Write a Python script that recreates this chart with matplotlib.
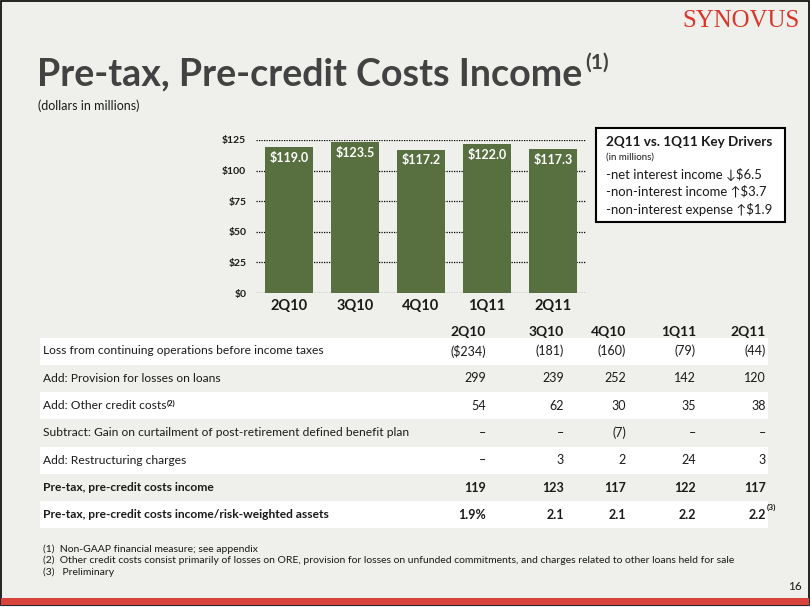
import matplotlib
matplotlib.use("Agg")
import matplotlib.pyplot as plt
from matplotlib.patches import Rectangle
from matplotlib.text import Annotation

# ---- data ----
quarters = ["2Q10", "3Q10", "4Q10", "1Q11", "2Q11"]
income = [119.0, 123.5, 117.2, 122.0, 117.3]
y_ticks = [0, 25, 50, 75, 100, 125]

row_labels = [
    "Loss from continuing operations before income taxes",
    "Add: Provision for losses on loans",
    "Add: Other credit costs",
    "Subtract: Gain on curtailment of post-retirement defined benefit plan",
    "Add: Restructuring charges",
    "Pre-tax, pre-credit costs income",
    "Pre-tax, pre-credit costs income/risk-weighted assets",
]
row_loss = ["($234)", "(181)", "(160)", "(79)", "(44)"]
row_provision = ["299", "239", "252", "142", "120"]
row_other = ["54", "62", "30", "35", "38"]
row_gain = ["\u2013", "\u2013", "(7)", "\u2013", "\u2013"]
row_restruct = ["\u2013", "3", "2", "24", "3"]
row_ppi = ["119", "123", "117", "122", "117"]
row_rwa = ["1.9%", "2.1", "2.1", "2.2", "2.2"]
table_rows = [row_loss, row_provision, row_other, row_gain, row_restruct, row_ppi, row_rwa]
bold_rows = [5, 6]

drivers = [
    "-net interest income \u2193$6.5",
    "-non-interest income \u2191$3.7",
    "-non-interest expense \u2191$1.9",
]
footnotes = [
    "(1)  Non-GAAP financial measure; see appendix",
    "(2)  Other credit costs consist primarily of losses on ORE, provision for losses on unfunded commitments, and charges related to other loans held for sale",
    "(3)   Preliminary",
]

# ---- style ----
W, H = 810, 607
BG = "#efefeb"
GREEN = "#586f40"
TXT = "#1a1a1a"
TITLE = "#424242"
RED = "#d8433c"
plt.rcParams["font.family"] = ["Lato", "DejaVu Sans"]


def fx(x):
    return x / W


def fy(y):
    return 1 - y / H


fig = plt.figure(figsize=(W / 100, H / 100), dpi=100, facecolor=BG)
renderer = fig.canvas.get_renderer()


def fit(t, width):
    # shrink/grow a text so that it spans the given pixel width
    w = t.get_window_extent(renderer).width
    t.set_fontsize(t.get_fontsize() * width / w)
    return t.get_fontsize()


def sup(t, s, size, dx=0.5, dy=0, weight="bold", color=TXT):
    # small superscript glued to the top-right corner of another text
    a = Annotation(s, xy=(1, 1), xycoords=t, xytext=(dx, dy), textcoords="offset points",
                   fontsize=size, fontweight=weight, color=color, ha="left", va="top",
                   annotation_clip=False, zorder=5)
    fig.add_artist(a)
    return a


# frame and bottom bar
fig.patches.append(Rectangle((fx(1), fy(605)), fx(808), 604 / H, transform=fig.transFigure,
                             fill=False, edgecolor="black", linewidth=1.2))
fig.patches.append(Rectangle((fx(1), fy(605)), fx(808), 7 / H, transform=fig.transFigure,
                             facecolor=RED, edgecolor="none"))

# logo
logo = fig.text(fx(800), fy(21), "SYNOVUS", family=["Liberation Serif"], fontsize=17,
                color="#d8372b", ha="right", va="center")
fit(logo, 118)

# ---- bar chart ----
ax = fig.add_axes([fx(256), fy(293), fx(330), 153 / H])
ax.set_facecolor("none")
x = list(range(len(quarters)))
ax.bar(x, income, width=0.73, color=GREEN, zorder=3)
for xi, v in zip(x, income):
    ax.annotate("${:.1f}".format(v), (xi, v), xytext=(0, -3.5), textcoords="offset points",
                ha="center", va="top", color="white", fontsize=9, fontweight="bold", zorder=4)
ax.set_xlim(-0.5, 4.5)
ax.set_ylim(0, 125)
ax.set_yticks(y_ticks)
ax.set_yticklabels(["${}".format(v) for v in y_ticks], fontsize=7.5, fontweight="bold", color=TXT)
ax.set_xticks(x)
ax.set_xticklabels(quarters, fontsize=10.5, fontweight="bold", color=TXT)
ax.tick_params(length=0, pad=7)
ax.tick_params(axis="x", pad=4)
ax.grid(axis="y", linestyle=(0, (1, 1)), color="black", linewidth=0.9, zorder=1)
for s in ax.spines.values():
    s.set_visible(False)

# title
t = fig.text(fx(37), fy(74), "Pre-tax, Pre-credit Costs Income", fontsize=29, fontweight="bold",
             color=TITLE, ha="left", va="center")
fit(t, 546)
sup(t, "(1)", 15, dx=2, dy=3, color=TITLE)
fig.text(fx(38), fy(106), "(dollars in millions)", fontsize=9, color=TXT, ha="left", va="center")

# key drivers box
fig.patches.append(Rectangle((fx(596), fy(222)), fx(189), 94 / H, transform=fig.transFigure,
                             facecolor="white", edgecolor="black", linewidth=1.5))
kt = fig.text(fx(606), fy(142), "2Q11 vs. 1Q11 Key Drivers", fontsize=10, fontweight="bold",
              color=TXT, ha="left", va="center")
fit(kt, 166)
fig.text(fx(606), fy(157), "(in millions)", fontsize=7, color=TXT, ha="left", va="center")
dts = [fig.text(fx(606), fy(174 + 17.5 * i), d, fontsize=10, color=TXT, ha="left", va="center")
       for i, d in enumerate(drivers)]
dsize = fit(dts[2], 166)
for d in dts:
    d.set_fontsize(dsize)

# ---- table ----
col_x = [486, 564, 626, 696, 766]
row_y0, row_dy = 351, 27.3
for i, q in enumerate(quarters):
    fig.text(fx(col_x[i]), fy(332), q, fontsize=10, fontweight="bold", color=TXT,
             ha="right", va="center")
labels = []
for r, (lab, vals) in enumerate(zip(row_labels, table_rows)):
    yc = row_y0 + r * row_dy
    if r % 2 == 0:
        fig.patches.append(Rectangle((fx(40), fy(yc + 13.5)), fx(728), 27 / H,
                                     transform=fig.transFigure, facecolor="white",
                                     edgecolor="none"))
    wt = "bold" if r in bold_rows else "normal"
    labels.append(fig.text(fx(43), fy(yc), lab, fontsize=8.5, fontweight=wt, color=TXT,
                           ha="left", va="center"))
    for i, v in enumerate(vals):
        vt = fig.text(fx(col_x[i]), fy(yc), v, fontsize=9, fontweight=wt, color=TXT,
                      ha="right", va="center")
        if r == 6 and i == 4:
            sup(vt, "(3)", 6, dx=0.5, dy=3.5)
lsize = fit(labels[3], 365)
for lt in labels:
    lt.set_fontsize(lsize)
sup(labels[2], "(2)", 5.5, dx=0.5, dy=0)

# footnotes
fts = [fig.text(fx(43), fy(549 + 11.5 * i), f, fontsize=7, color=TXT, ha="left", va="center")
       for i, f in enumerate(footnotes)]
fsize = fit(fts[1], 695)
for f in fts:
    f.set_fontsize(fsize)

fig.text(fx(802), fy(586), "16", fontsize=8.5, color=TXT, ha="right", va="center")

fig.savefig("out.png", dpi=100, facecolor=BG)
